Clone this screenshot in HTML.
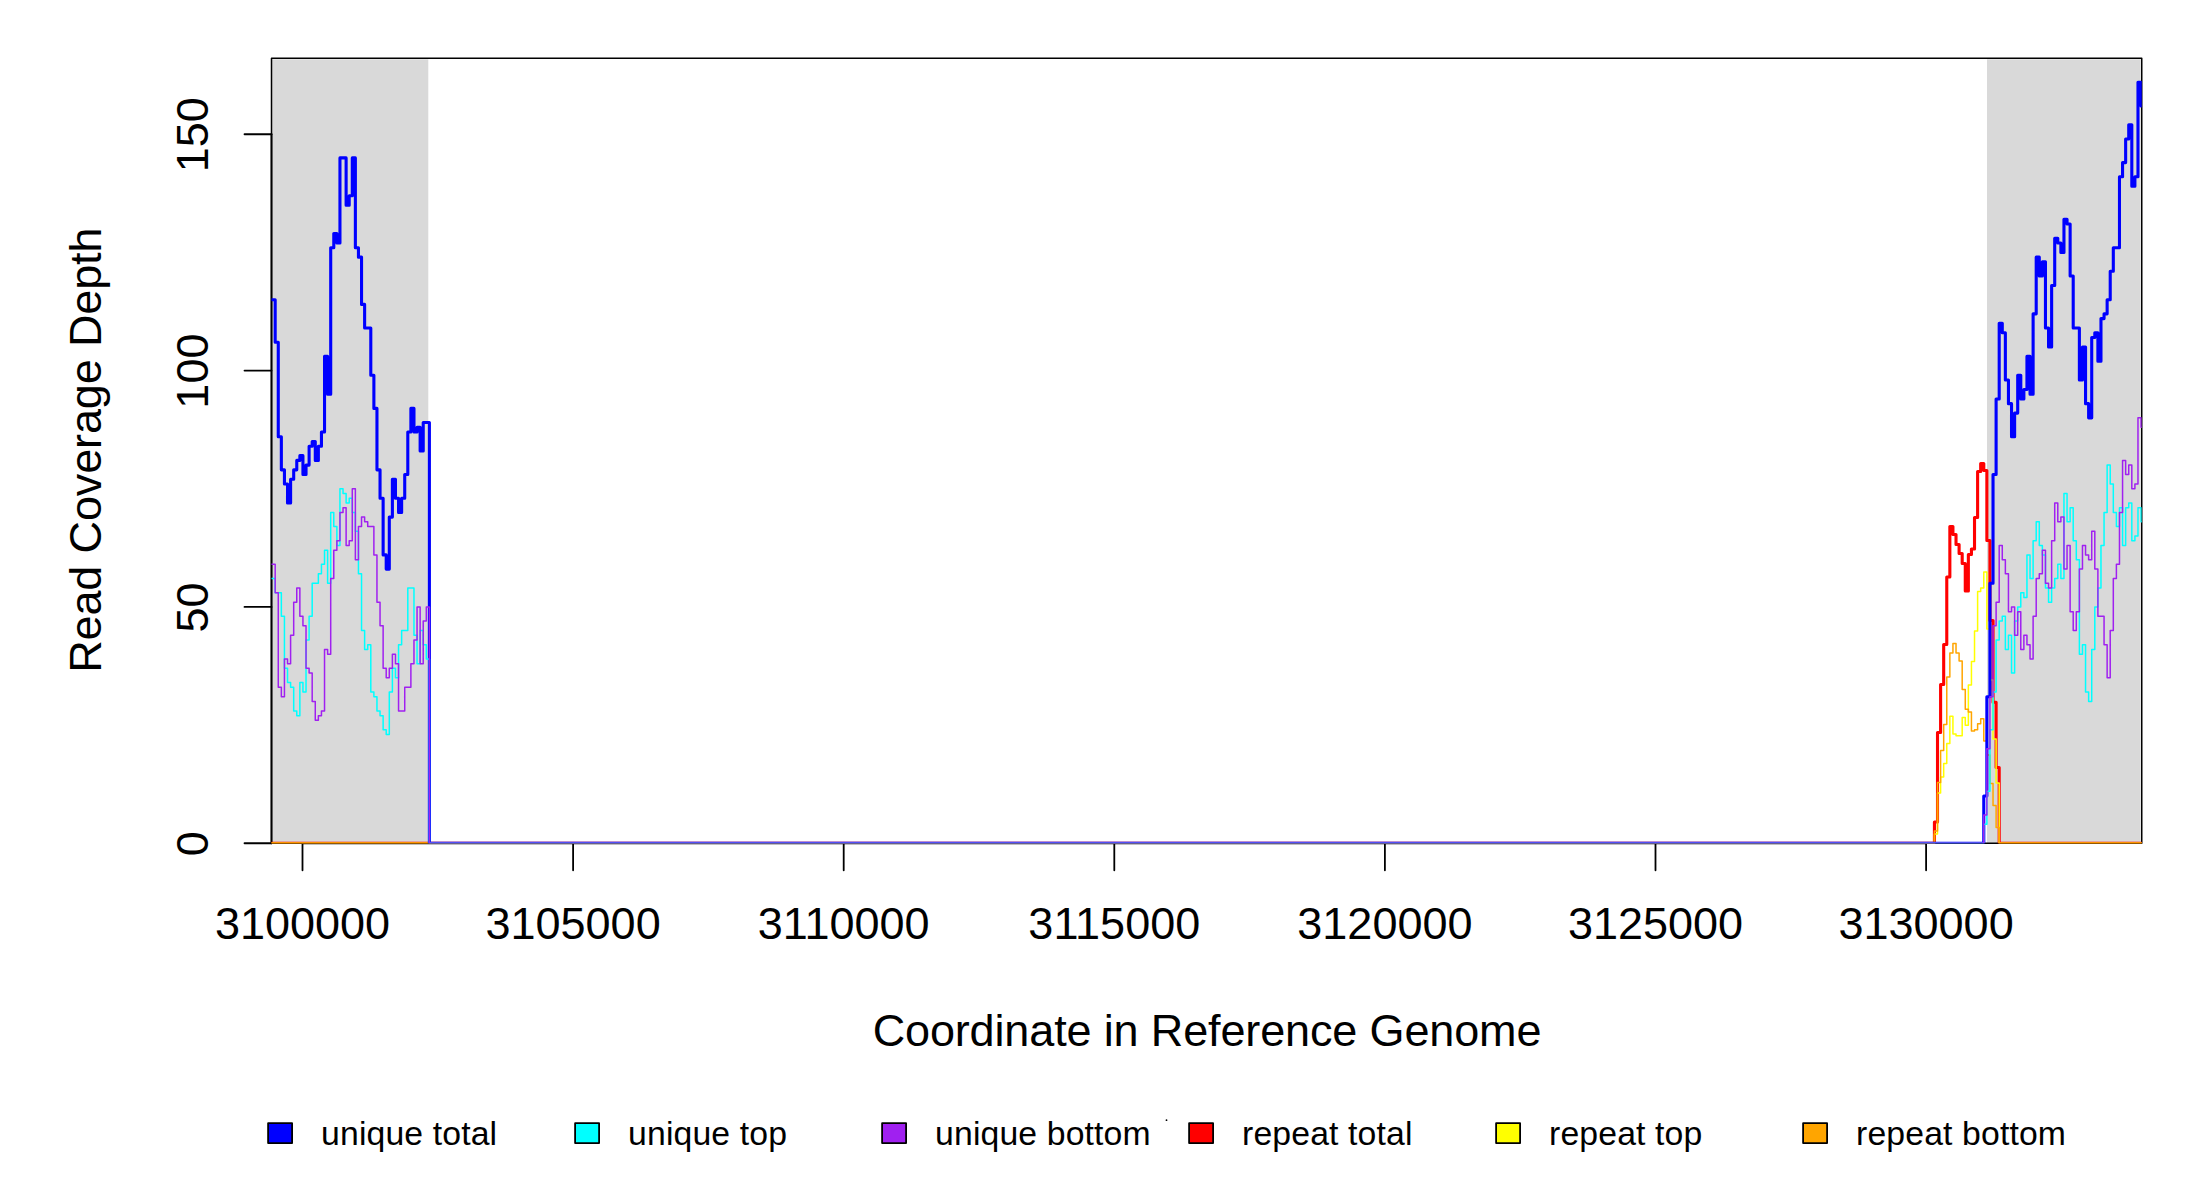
<!DOCTYPE html>
<html lang="en"><head><meta charset="utf-8"><title>Read Coverage Depth</title>
<style>html,body{margin:0;padding:0;background:#fff;}body{width:2200px;height:1200px;overflow:hidden;}svg{display:block;}text{font-family:"Liberation Sans", sans-serif;fill:#000;}</style></head><body>
<svg width="2200" height="1200" viewBox="0 0 2200 1200">
<rect width="2200" height="1200" fill="#fff"/>
<rect x="271.5" y="59.3" width="156.8" height="784" fill="#d9d9d9"/>
<rect x="1987" y="59.3" width="153.7" height="784" fill="#d9d9d9"/>
<rect x="271.5" y="58.25" width="1870.25" height="785" fill="none" stroke="#000" stroke-width="1.5" stroke-linejoin="round"/>
<g stroke="#000" stroke-width="1.8" fill="none" stroke-linecap="round">
<path d="M271.5 843.25V134.25"/>
<path d="M244.5 843.25H271.5"/>
<path d="M244.5 606.91H271.5"/>
<path d="M244.5 370.58H271.5"/>
<path d="M244.5 134.25H271.5"/>
<path d="M302.5 843.25H1926.1"/>
<path d="M302.5 843.25V870.25"/>
<path d="M573.1 843.25V870.25"/>
<path d="M843.7 843.25V870.25"/>
<path d="M1114.3 843.25V870.25"/>
<path d="M1384.9 843.25V870.25"/>
<path d="M1655.5 843.25V870.25"/>
<path d="M1926.1 843.25V870.25"/>
</g>
<text transform="translate(207.5 843.8) rotate(-90)" text-anchor="middle" font-size="45">0</text>
<text transform="translate(207.5 607.4) rotate(-90)" text-anchor="middle" font-size="45">50</text>
<text transform="translate(207.5 371.1) rotate(-90)" text-anchor="middle" font-size="45">100</text>
<text transform="translate(207.5 134.7) rotate(-90)" text-anchor="middle" font-size="45">150</text>
<text x="302.5" y="939" text-anchor="middle" font-size="45">3100000</text>
<text x="573.1" y="939" text-anchor="middle" font-size="45">3105000</text>
<text x="843.7" y="939" text-anchor="middle" font-size="45">3110000</text>
<text x="1114.3" y="939" text-anchor="middle" font-size="45">3115000</text>
<text x="1384.9" y="939" text-anchor="middle" font-size="45">3120000</text>
<text x="1655.5" y="939" text-anchor="middle" font-size="45">3125000</text>
<text x="1926.1" y="939" text-anchor="middle" font-size="45">3130000</text>
<text x="1207" y="1046" text-anchor="middle" font-size="45" letter-spacing="-0.14">Coordinate in Reference Genome</text>
<text transform="translate(101 450.2) rotate(-90)" text-anchor="middle" font-size="45" letter-spacing="-0.14">Read Coverage Depth</text>
<clipPath id="pc"><rect x="271.5" y="58.25" width="1870.25" height="785"/></clipPath>
<g fill="none" stroke-linejoin="round" stroke-linecap="round" clip-path="url(#pc)">
<path d="M271 843.25 H1934.43 V822.00 H1937.51 V732.50 H1940.60 V684.50 H1943.68 V644.50 H1946.77 V577.00 H1949.85 V526.50 H1952.93 V534.50 H1956.02 V544.50 H1959.10 V553.50 H1962.19 V563.50 H1965.27 V591.00 H1968.36 V554.50 H1971.44 V549.00 H1974.52 V517.50 H1977.61 V471.50 H1980.69 V463.50 H1983.78 V470.50 H1986.86 V540.50 H1989.94 V620.50 H1993.03 V702.25 H1996.11 V767.50 H1999.20 V843.25 H2143" stroke="#ff0000" stroke-width="3.1"/>
<path d="M271 843.25 H1934.43 V834.00 H1937.51 V793.00 H1940.60 V777.00 H1943.68 V763.50 H1946.77 V743.50 H1949.85 V716.25 H1952.93 V734.00 H1956.02 V735.75 H1959.10 V735.75 H1962.19 V717.50 H1965.27 V725.25 H1968.36 V685.00 H1971.44 V661.50 H1974.52 V631.00 H1977.61 V591.50 H1980.69 V588.00 H1983.78 V572.00 H1986.86 V629.00 H1989.94 V680.00 H1993.03 V739.00 H1996.11 V783.00 H1999.20 V843.25 H2143" stroke="#ffff00" stroke-width="1.5"/>
<path d="M271 843.25 H1934.43 V831.00 H1937.51 V782.50 H1940.60 V750.50 H1943.68 V724.50 H1946.77 V677.00 H1949.85 V653.00 H1952.93 V643.50 H1956.02 V653.00 H1959.10 V661.00 H1962.19 V689.50 H1965.27 V709.25 H1968.36 V712.00 H1971.44 V731.00 H1974.52 V729.75 H1977.61 V723.75 H1980.69 V718.75 H1983.78 V741.00 H1986.86 V755.00 H1989.94 V783.50 H1993.03 V805.60 H1996.11 V827.40 H1999.20 V843.25 H2143" stroke="#ffa500" stroke-width="1.5"/>
<path d="M271.00 299.68 H275.18 V342.22 H278.27 V436.75 H281.35 V469.84 H284.44 V484.02 H287.52 V502.93 H290.60 V479.29 H293.69 V469.84 H296.77 V460.39 H299.86 V455.66 H302.94 V474.57 H306.03 V465.11 H309.11 V446.21 H312.19 V441.48 H315.28 V460.39 H318.36 V446.21 H321.45 V432.03 H324.53 V356.40 H327.61 V394.21 H330.70 V247.69 H333.78 V233.51 H336.87 V242.96 H339.95 V157.88 H343.03 H346.12 V205.15 H349.20 V195.69 H352.29 V157.88 H355.37 V247.69 H358.45 V257.14 H361.54 V304.41 H364.62 V328.04 H367.71 H370.79 V375.31 H373.88 V408.39 H376.96 V469.84 H380.04 V498.20 H383.13 V554.92 H386.21 V569.10 H389.30 V517.11 H392.38 V479.29 H395.46 V498.20 H398.55 V512.38 H401.63 V498.20 H404.72 V474.57 H407.80 V432.03 H410.88 V408.39 H413.97 V432.03 H417.05 V427.30 H420.14 V450.93 H423.22 V422.57 H426.31 H429.39 V843.25 H1983.78 V795.98 H1986.86 V696.72 H1989.94 V583.28 H1993.03 V474.57 H1996.11 V398.94 H1999.20 V323.31 H2002.28 V332.77 H2005.36 V380.03 H2008.45 V403.67 H2011.53 V436.75 H2014.62 V413.12 H2017.70 V375.31 H2020.78 V398.94 H2023.87 V389.49 H2026.95 V356.40 H2030.04 V394.21 H2033.12 V313.86 H2036.21 V257.14 H2039.29 V276.05 H2042.37 V261.87 H2045.46 V328.04 H2048.54 V346.95 H2051.63 V285.50 H2054.71 V238.23 H2057.79 V242.96 H2060.88 V252.41 H2063.96 V219.33 H2067.05 V224.05 H2070.13 V276.05 H2073.21 V328.04 H2076.30 V328.04 H2079.38 V380.03 H2082.47 V346.95 H2085.55 V403.67 H2088.63 V417.85 H2091.72 V337.49 H2094.80 V332.77 H2097.89 V361.13 H2100.97 V318.59 H2104.06 V313.86 H2107.14 V299.68 H2110.22 V271.32 H2113.31 V247.69 H2116.39 V247.69 H2119.48 V176.79 H2122.56 V162.61 H2125.64 V138.97 H2128.73 V124.79 H2131.81 V186.24 H2134.90 V176.79 H2137.98 V82.25 H2141.06 V105.88 H2143" stroke="#0000ff" stroke-width="3.1"/>
<path d="M271.00 578.55 H275.18 V592.73 H278.27 H281.35 V616.37 H284.44 V668.36 H287.52 V682.54 H290.60 V687.27 H293.69 V710.90 H296.77 V715.63 H299.86 V682.54 H302.94 V692.00 H306.03 V640.00 H309.11 V616.37 H312.19 V583.28 H315.28 H318.36 V573.83 H321.45 V564.37 H324.53 V550.19 H327.61 V583.28 H330.70 V512.38 H333.78 V526.56 H336.87 V545.47 H339.95 V488.75 H343.03 V493.47 H346.12 V502.93 H349.20 V498.20 H352.29 V512.38 H355.37 V531.29 H358.45 V573.83 H361.54 V630.55 H364.62 V649.46 H367.71 V644.73 H370.79 V692.00 H373.88 V696.72 H376.96 V710.90 H380.04 V715.63 H383.13 V729.81 H386.21 V734.54 H389.30 V692.00 H392.38 V668.36 H395.46 V677.82 H398.55 V644.73 H401.63 V630.55 H404.72 H407.80 V588.01 H410.88 H413.97 V635.28 H417.05 V663.64 H420.14 V630.55 H423.22 V644.73 H426.31 V658.91 H429.39 V843.25 H1983.78 V824.34 H1986.86 V791.26 H1989.94 V729.81 H1993.03 V692.00 H1996.11 V640.00 H1999.20 V621.10 H2002.28 V616.37 H2005.36 V649.46 H2008.45 V635.28 H2011.53 V673.09 H2014.62 V621.10 H2017.70 V606.91 H2020.78 V592.73 H2023.87 V597.46 H2026.95 V554.92 H2030.04 V578.55 H2033.12 V540.74 H2036.21 V521.83 H2039.29 V545.47 H2042.37 V554.92 H2045.46 V588.01 H2048.54 V602.19 H2051.63 V588.01 H2054.71 V578.55 H2057.79 V564.37 H2060.88 V578.55 H2063.96 V493.47 H2067.05 V521.83 H2070.13 V507.65 H2073.21 V540.74 H2076.30 V559.65 H2079.38 V654.18 H2082.47 V644.73 H2085.55 V692.00 H2088.63 V701.45 H2091.72 V649.46 H2094.80 V606.91 H2097.89 V588.01 H2100.97 V545.47 H2104.06 V512.38 H2107.14 V465.11 H2110.22 V484.02 H2113.31 V512.38 H2116.39 V526.56 H2119.48 V507.65 H2122.56 V545.47 H2125.64 V507.65 H2128.73 V502.93 H2131.81 V540.74 H2134.90 V536.01 H2137.98 V507.65 H2141.06 V521.83 H2143" stroke="#00ffff" stroke-width="1.5"/>
<path d="M271.00 564.37 H275.18 V592.73 H278.27 V687.27 H281.35 V696.72 H284.44 V658.91 H287.52 V663.64 H290.60 V635.28 H293.69 V602.19 H296.77 V588.01 H299.86 V616.37 H302.94 V625.82 H306.03 V668.36 H309.11 V673.09 H312.19 V701.45 H315.28 V720.36 H318.36 V715.63 H321.45 V710.90 H324.53 V649.46 H327.61 V654.18 H330.70 V578.55 H333.78 V550.19 H336.87 V540.74 H339.95 V512.38 H343.03 V507.65 H346.12 V545.47 H349.20 V540.74 H352.29 V488.75 H355.37 V559.65 H358.45 V526.56 H361.54 V517.11 H364.62 V521.83 H367.71 V526.56 H370.79 H373.88 V554.92 H376.96 V602.19 H380.04 V625.82 H383.13 V668.36 H386.21 V677.82 H389.30 V668.36 H392.38 V654.18 H395.46 V663.64 H398.55 V710.90 H401.63 H404.72 V687.27 H407.80 H410.88 V663.64 H413.97 V640.00 H417.05 V606.91 H420.14 V663.64 H423.22 V621.10 H426.31 V606.91 H429.39 V843.25 H1983.78 V814.89 H1986.86 V748.72 H1989.94 V696.72 H1993.03 V625.82 H1996.11 V602.19 H1999.20 V545.47 H2002.28 V559.65 H2005.36 V573.83 H2008.45 V611.64 H2011.53 V606.91 H2014.62 V635.28 H2017.70 V611.64 H2020.78 V649.46 H2023.87 V635.28 H2026.95 V644.73 H2030.04 V658.91 H2033.12 V616.37 H2036.21 V578.55 H2039.29 V573.83 H2042.37 V550.19 H2045.46 V583.28 H2048.54 V588.01 H2051.63 V540.74 H2054.71 V502.93 H2057.79 V521.83 H2060.88 V517.11 H2063.96 V569.10 H2067.05 V545.47 H2070.13 V611.64 H2073.21 V630.55 H2076.30 V611.64 H2079.38 V569.10 H2082.47 V545.47 H2085.55 V554.92 H2088.63 V559.65 H2091.72 V531.29 H2094.80 V569.10 H2097.89 V616.37 H2100.97 V616.37 H2104.06 V644.73 H2107.14 V677.82 H2110.22 V630.55 H2113.31 V578.55 H2116.39 V564.37 H2119.48 V512.38 H2122.56 V460.39 H2125.64 V474.57 H2128.73 V465.11 H2131.81 V488.75 H2134.90 V484.02 H2137.98 V417.85 H2141.06 V427.30 H2143" stroke="#a020f0" stroke-width="1.5"/>
</g>
<rect x="268.1" y="1123.2" width="24" height="19.9" fill="#0000ff" stroke="#000" stroke-width="1.8" stroke-linejoin="round"/>
<text x="321.1" y="1145" font-size="33.75" letter-spacing="0.13">unique total</text>
<rect x="575.1" y="1123.2" width="24" height="19.9" fill="#00ffff" stroke="#000" stroke-width="1.8" stroke-linejoin="round"/>
<text x="628.1" y="1145" font-size="33.75" letter-spacing="0.13">unique top</text>
<rect x="882.1" y="1123.2" width="24" height="19.9" fill="#a020f0" stroke="#000" stroke-width="1.8" stroke-linejoin="round"/>
<text x="935.1" y="1145" font-size="33.75" letter-spacing="0.13">unique bottom</text>
<rect x="1189.1" y="1123.2" width="24" height="19.9" fill="#ff0000" stroke="#000" stroke-width="1.8" stroke-linejoin="round"/>
<text x="1242.1" y="1145" font-size="33.75" letter-spacing="0.13">repeat total</text>
<rect x="1496.1" y="1123.2" width="24" height="19.9" fill="#ffff00" stroke="#000" stroke-width="1.8" stroke-linejoin="round"/>
<text x="1549.1" y="1145" font-size="33.75" letter-spacing="0.13">repeat top</text>
<rect x="1803.1" y="1123.2" width="24" height="19.9" fill="#ffa500" stroke="#000" stroke-width="1.8" stroke-linejoin="round"/>
<text x="1856.1" y="1145" font-size="33.75" letter-spacing="0.13">repeat bottom</text>
<circle cx="1166.5" cy="1120.2" r="0.9" fill="#000"/>
</svg></body></html>
